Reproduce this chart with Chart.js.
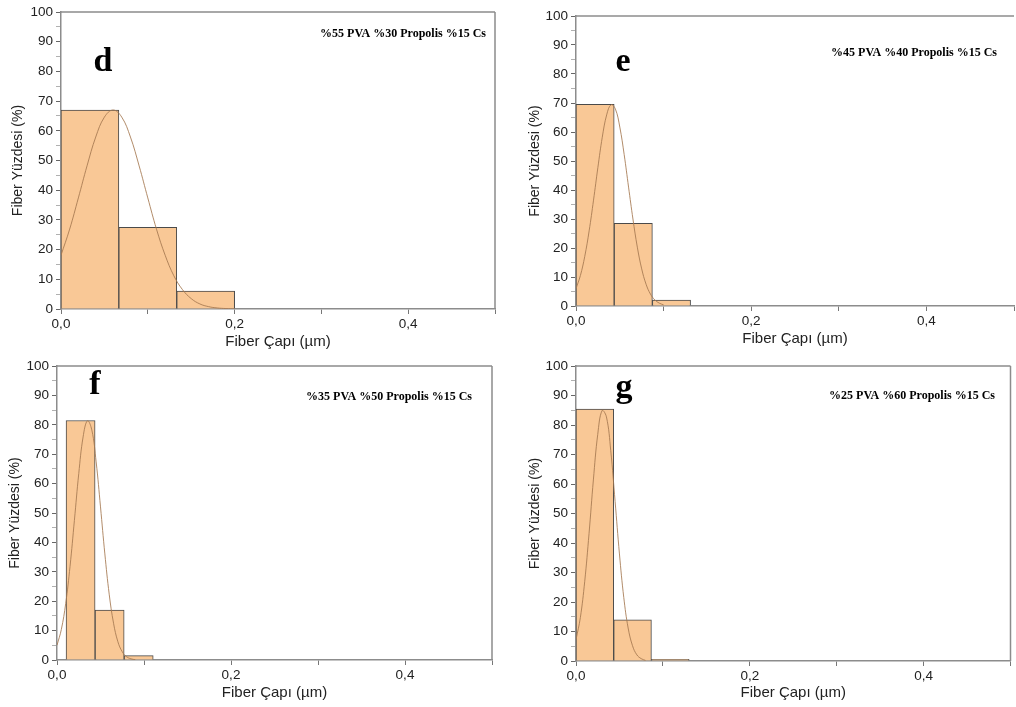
<!DOCTYPE html>
<html>
<head>
<meta charset="utf-8">
<script src="https://cdn.jsdelivr.net/npm/chart.js@4.4.0/dist/chart.umd.min.js"></script>
<style>
  body { margin: 0; width: 1016px; height: 707px; overflow: hidden; background: #fff; position: relative; }
  canvas { position: absolute; }
</style>
</head>
<body>
<canvas id="chartD" width="508" height="355" style="left:0;top:0"></canvas>
<canvas id="chartE" width="508" height="355" style="left:508px;top:0"></canvas>
<canvas id="chartF" width="508" height="352" style="left:0;top:355px"></canvas>
<canvas id="chartG" width="508" height="352" style="left:508px;top:355px"></canvas>
<script>
// histogram bins (centre of each bin, µm) and percentages
let dBins = [0.0333, 0.1, 0.1667];
let dValues = [67, 27.5, 6];
let eBins = [0.0218, 0.0654, 0.109];
let eValues = [69.5, 28.5, 2];
let fBins = [0.0271, 0.0605, 0.0939];
let fValues = [81.5, 17, 1.5];
let gBins = [0.0217, 0.0651, 0.1085];
let gValues = [85.4, 14, 0.6];

// fitted distribution curves
let dCurveX = [0, 0.01, 0.02, 0.03, 0.04, 0.05, 0.06, 0.07, 0.08, 0.09, 0.1, 0.11, 0.12, 0.13, 0.14, 0.15, 0.16, 0.17, 0.18, 0.19, 0.2];
let dCurveY = [18.1, 26.9, 37.4, 48.2, 57.9, 64.6, 67, 64.6, 57.9, 48.2, 37.4, 26.9, 18.1, 11.2, 6.5, 3.5, 1.7, 0.8, 0.35, 0.15, 0.06];
let fineX = [0, 0.005, 0.01, 0.015, 0.02, 0.025, 0.03, 0.035, 0.04, 0.045, 0.05, 0.055, 0.06, 0.065, 0.07, 0.075, 0.08, 0.085, 0.09, 0.095, 0.1];
let eCurveY = [6.0, 10.5, 17.1, 25.9, 36.5, 47.8, 58.2, 65.9, 69.4, 67.9, 61.7, 52.2, 41.0, 30.0, 20.3, 12.8, 7.5, 4.1, 2.1, 1.0, 0.4];
let fCurveY = [5.0, 10.4, 19.2, 31.9, 47.5, 63.4, 75.9, 81.4, 78.3, 67.4, 52.1, 36.1, 22.4, 12.5, 6.2, 2.8, 1.1, 0.4, 0.1];
let gCurveY = [7.2, 14.7, 26.9, 43.2, 61.4, 76.8, 84.9, 82.8, 71.3, 54.1, 36.3, 21.5, 11.2, 5.2, 2.1, 0.8, 0.2];

let legends = {
  d: "%55 PVA %30 Propolis %15 Cs",
  e: "%45 PVA %40 Propolis %15 Cs",
  f: "%35 PVA %50 Propolis %15 Cs",
  g: "%25 PVA %60 Propolis %15 Cs",
};
let xTitle = "Fiber Çapı (µm)";
let yTitle = "Fiber Yüzdesi (%)";

//TODO: frame (top/right) plus panel letter and composition text
const panelDecor = {
  id: "panelDecor",
  afterDraw(chart, args, opts) {
    let { ctx, chartArea: a } = chart;
    ctx.save();
    ctx.strokeStyle = "#8c8c8c";
    ctx.lineWidth = 1.5;
    ctx.beginPath();
    ctx.moveTo(a.left, a.top);
    ctx.lineTo(a.right, a.top);
    if (opts.rightFrame) {
      ctx.moveTo(a.right, a.top);
      ctx.lineTo(a.right, a.bottom);
    }
    ctx.stroke();
    ctx.fillStyle = "#000";
    ctx.textAlign = "center";
    ctx.font = 'bold 34px "Liberation Serif"';
    ctx.fillText(opts.letter, opts.letterX, opts.letterY);
    ctx.textAlign = "right";
    ctx.font = 'bold 12px "Liberation Serif"';
    ctx.fillText(opts.legend, opts.legendX, opts.legendY);
    ctx.restore();
  },
};

function makePanel(id, bins, values, curveX, curveY, p) {
  let canvas = document.getElementById(id).getContext("2d");
  return new Chart(canvas, {
    type: "bar",
    data: {
      datasets: [
        {
          type: "line",
          data: curveY.map((y, i) => ({ x: curveX[i], y: y })),
          borderColor: "rgba(165, 120, 80, 0.85)",
          borderWidth: 1,
          pointRadius: 0,
          tension: 0.4,
          fill: false,
          order: 1,
        },
        {
          type: "bar",
          data: values.map((v, i) => ({ x: bins[i], y: v })),
          backgroundColor: "#f9c896",
          borderColor: "#4a4a4a",
          borderWidth: 1,
          barPercentage: 1,
          categoryPercentage: 1,
          order: 2,
        },
      ],
    },
    plugins: [panelDecor],
    options: {
      responsive: false,
      animation: false,
      layout: { padding: p.pad },
      plugins: {
        legend: { display: false },
        tooltip: { enabled: false },
        panelDecor: p.decor,
      },
      scales: {
        x: {
          type: "linear",
          min: 0,
          max: 0.5,
          offset: false,
          afterFit: (s) => { s.height = p.xH; },
          grid: { offset: false, drawOnChartArea: false, drawTicks: true, tickLength: 5, tickColor: "#777" },
          border: { color: "#8c8c8c", width: 1.5 },
          ticks: {
            stepSize: 0.1,
            autoSkip: false,
            maxRotation: 0,
            padding: 2,
            color: "#222",
            font: { family: "Liberation Sans", size: 13.5 },
            callback: (value) => {
              let v = Math.round(value * 10);
              return v % 2 === 0 ? (v / 10).toFixed(1).replace(".", ",") : "";
            },
          },
          title: {
            display: true,
            text: xTitle,
            color: "#222",
            font: { family: "Liberation Sans", size: 15 },
            padding: { top: 0, bottom: p.xTitlePad },
          },
        },
        y: {
          min: 0,
          max: 100,
          afterFit: (s) => { s.width = p.yW; },
          grid: {
            drawOnChartArea: false,
            drawTicks: true,
            tickLength: 5,
            tickColor: (c) => (c.tick.value % 10 === 0 ? "#666" : "#b0b0b0"),
          },
          border: { color: "#8c8c8c", width: 1.5 },
          ticks: {
            stepSize: 5,
            autoSkip: false,
            padding: 3,
            color: "#222",
            font: { family: "Liberation Sans", size: 13.5 },
            callback: (value) => (value % 10 === 0 ? value : ""),
          },
          title: {
            display: true,
            text: yTitle,
            color: "#222",
            font: { family: "Liberation Sans", size: 14 },
            padding: { top: p.yTitlePad, bottom: 0 },
          },
        },
      },
    },
  });
}

makePanel("chartD", dBins, dValues, dCurveX, dCurveY, {
  pad: { top: 12, right: 13, left: 0, bottom: 0 },
  yW: 61, xH: 46, xTitlePad: 4, yTitlePad: 10,
  decor: { letter: "d", letterX: 103, letterY: 71, legend: legends.d, legendX: 486, legendY: 37, rightFrame: true },
});
makePanel("chartE", eBins, eValues, fineX, eCurveY, {
  pad: { top: 16, right: 0, left: 0, bottom: 0 },
  yW: 68, xH: 49, xTitlePad: 7, yTitlePad: 19,
  decor: { letter: "e", letterX: 115, letterY: 71, legend: legends.e, legendX: 489, legendY: 56, rightFrame: false },
});
makePanel("chartF", fBins, fValues, fineX, fCurveY, {
  pad: { top: 9, right: 16, left: 0, bottom: 0 },
  yW: 57, xH: 47, xTitlePad: 5, yTitlePad: 7,
  decor: { letter: "f", letterX: 95, letterY: 39, legend: legends.f, legendX: 472, legendY: 45, rightFrame: true },
});
makePanel("chartG", gBins, gValues, fineX, gCurveY, {
  pad: { top: 9, right: 5.5, left: 0, bottom: 0 },
  yW: 68, xH: 46, xTitlePad: 5, yTitlePad: 19,
  decor: { letter: "g", letterX: 116, letterY: 42, legend: legends.g, legendX: 487, legendY: 44, rightFrame: true },
});
</script>
</body>
</html>
